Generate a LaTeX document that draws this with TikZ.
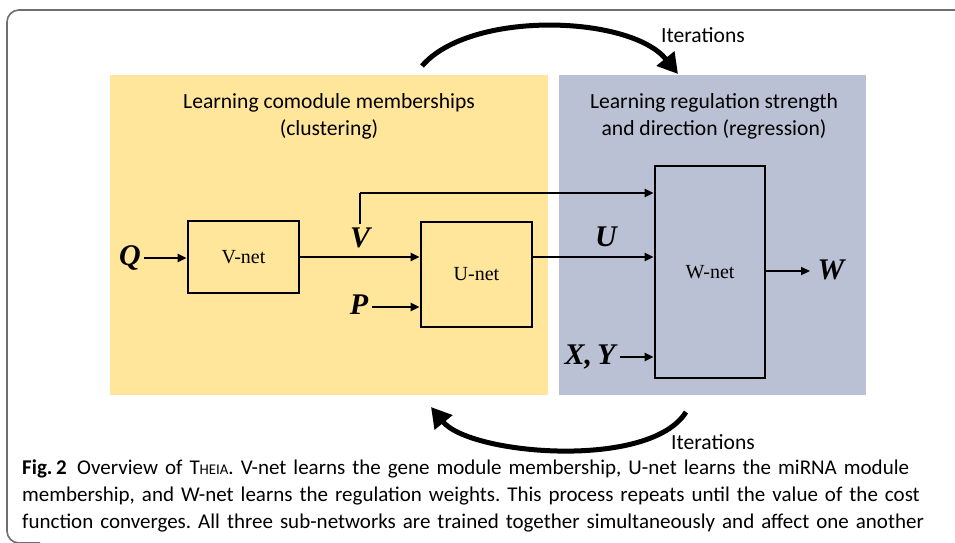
\documentclass[tikz,border=0pt]{standalone}
\usepackage{fontspec}
\setmainfont{Liberation Serif}
\newfontfamily\headfont{Carlito}
\usetikzlibrary{arrows.meta}
\definecolor{clusterbg}{RGB}{255,230,155}
\definecolor{regressbg}{RGB}{187,193,212}
\definecolor{framegray}{RGB}{110,110,110}
\tikzset{
  netbox/.style={draw=black, line width=2.6pt, inner sep=0pt, font=\fontsize{20}{22}\selectfont},
  var/.style={font=\fontsize{30}{31}\selectfont\bfseries\itshape, inner sep=0pt},
  head/.style={font=\headfont\fontsize{21.6}{27}\selectfont, align=center, inner sep=0pt},
  flow/.style={line width=2.2pt, -{Triangle[length=9pt,width=8pt]}},
  loop/.style={line width=5pt, -{Triangle[length=20pt,width=22pt]}},
}
\begin{document}
\frenchspacing
\begin{tikzpicture}[x=1pt,y=-1pt]
\useasboundingbox (0,0) rectangle (955,543);
% outer frame of the figure panel
\draw[framegray, line width=1.6pt, rounded corners=12pt] (970,10) -- (7,10) -- (7,543) -- (40,543);
% shaded regions
\fill[clusterbg] (110,75) rectangle (548,395);
\fill[regressbg] (559,75) rectangle (866,395);
\node[head] (hc) at (329,116) {Learning comodule memberships\\(clustering)};
\node[head] (hr) at (714,116) {Learning regulation strength\\and direction (regression)};
% sub-networks
\node[netbox, minimum width=111pt, minimum height=72pt] (vnet) at (243.5,257) {V-net};
\node[netbox, minimum width=111pt, minimum height=105pt] (unet) at (476.5,274.5) {U-net};
\node[netbox, minimum width=110pt, minimum height=212pt] (wnet) at (710,272) {W-net};
% variables
\node[var] (q) at (130,258) {Q};
\node[var] (v) at (360,238) {V};
\node[var] (p) at (359,305) {P};
\node[var] (u) at (606,237) {U};
\node[var] (xy) at (590,357) {X,\,Y};
\node[var] (w) at (831,270) {W};
\coordinate (vup) at (360,193);
\coordinate (wend) at (810,271);
% connections
\draw[flow] (q.east) ++(3,0) -- (vnet.west |- 0,258);
\draw[flow] (vnet.east |- 0,257) -- (unet.west |- 0,257);
\draw[line width=2.2pt] (v.north) ++(0,-4) -- (vup);
\draw[flow] (vup) -- (wnet.west |- vup);
\draw[flow] (p.east) ++(4,2) -- (unet.west |- 0,307);
\draw[flow] (unet.east |- 0,257) -- (wnet.west |- 0,257);
\draw[flow] (xy.east) ++(4,0) -- (wnet.west |- 0,357);
\draw[flow] (wnet.east |- wend) -- (wend);
% iteration arrows
\node[head] (it1) at (703,35) {Iterations};
\node[head] (it2) at (713,442) {Iterations};
\coordinate (t1) at (422,66);
\coordinate (t2) at (678,74);
\coordinate (b1) at (686,412);
\coordinate (b2) at (431,407);
\draw[loop] (t1) .. controls (470,10) and (630,15) .. (t2);
\draw[loop] (b1) .. controls (650,470) and (470,455) .. (b2);
% caption
\node[anchor=west, inner sep=0pt, font=\headfont\fontsize{21}{27}\selectfont, align=left, text width=920pt] (cap) at (22,496)
{{\bfseries Fig.\,2}\enspace Overview of T{\fontsize{14.8}{14}\selectfont HEIA}. V-net learns the gene module membership, U-net learns the miRNA module\\
membership, and W-net learns the regulation weights. This process repeats until the value of the cost\\
function converges. All three sub-networks are trained together simultaneously and affect one another};
\end{tikzpicture}
\end{document}
